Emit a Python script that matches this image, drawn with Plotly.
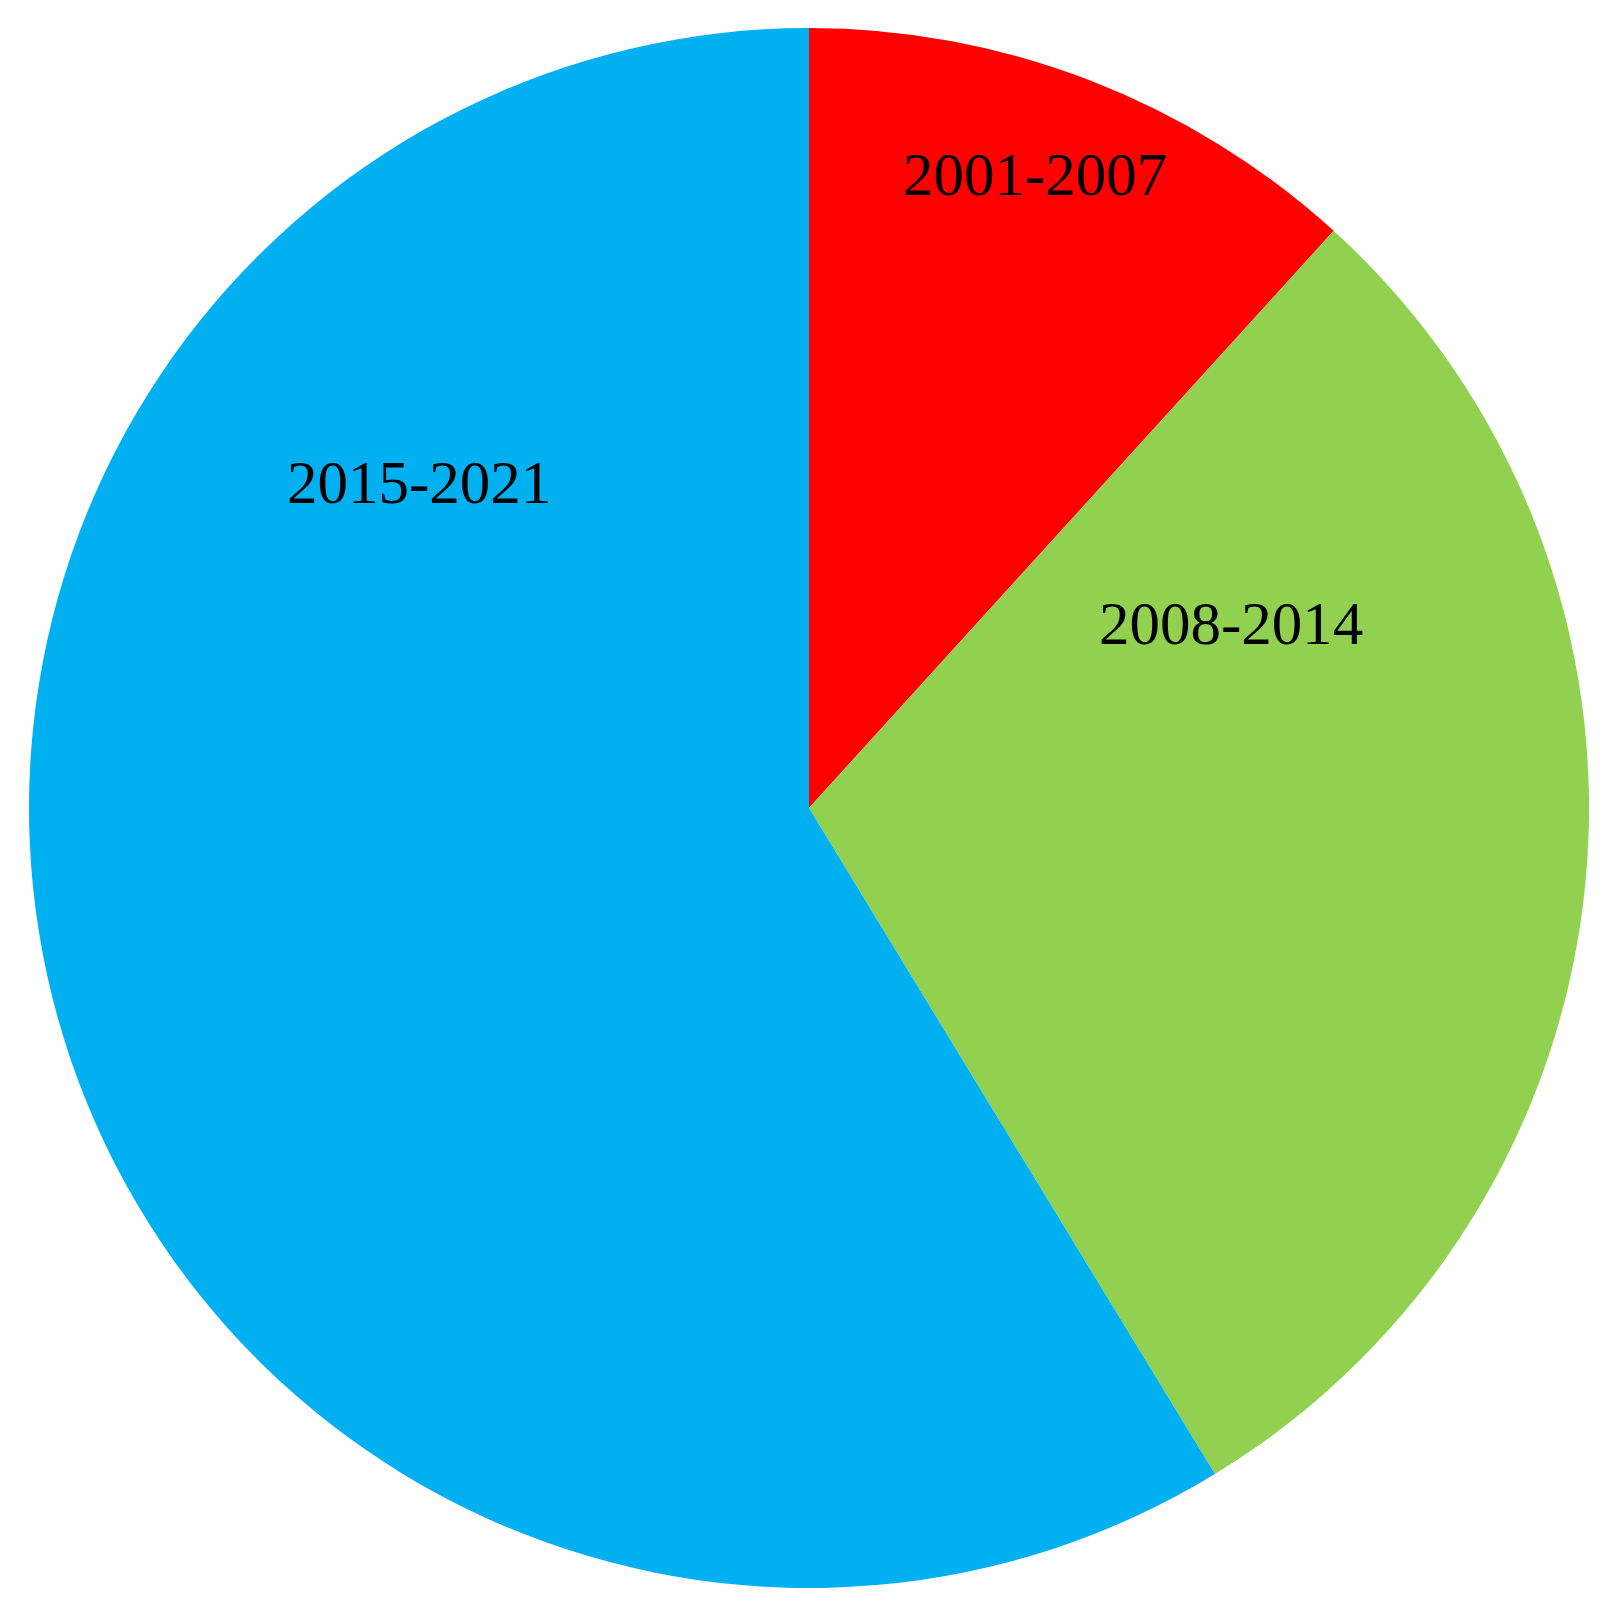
import plotly.graph_objects as go

labels = ["2001-2007", "2008-2014", "2015-2021"]
values = [31, 78, 155]
colors = ["#FF0000", "#92D050", "#00B0F0"]

# page has an 8px body margin; figure sized to fit inside the window
W, H = 1602, 1608
cx, cy, r = 801, 800, 780

# label anchor positions (figure pixels -> paper fractions)
label_px = [(1027, 167), (1223, 615), (411, 474)]
label_x = [p[0] / W for p in label_px]
label_y = [1 - p[1] / H for p in label_px]

fig = go.Figure(go.Pie(
    labels=labels,
    values=values,
    sort=False,
    direction="clockwise",
    rotation=0,
    marker=dict(colors=colors, line=dict(width=0)),
    textinfo="none",
    hoverinfo="label+value",
    showlegend=False,
    domain=dict(x=[(cx - r) / W, (cx + r) / W],
                y=[(H - cy - r) / H, (H - cy + r) / H]),
))

for lab, x, y in zip(labels, label_x, label_y):
    fig.add_annotation(text=lab, x=x, y=y, xref="paper", yref="paper",
                       showarrow=False, xanchor="center", yanchor="middle",
                       font=dict(family="Liberation Serif, Times New Roman, serif",
                                 size=61, color="black"))

fig.update_layout(width=W, height=H, margin=dict(l=0, r=0, t=0, b=0),
                  paper_bgcolor="white", plot_bgcolor="white")
fig.write_html("out.html")
